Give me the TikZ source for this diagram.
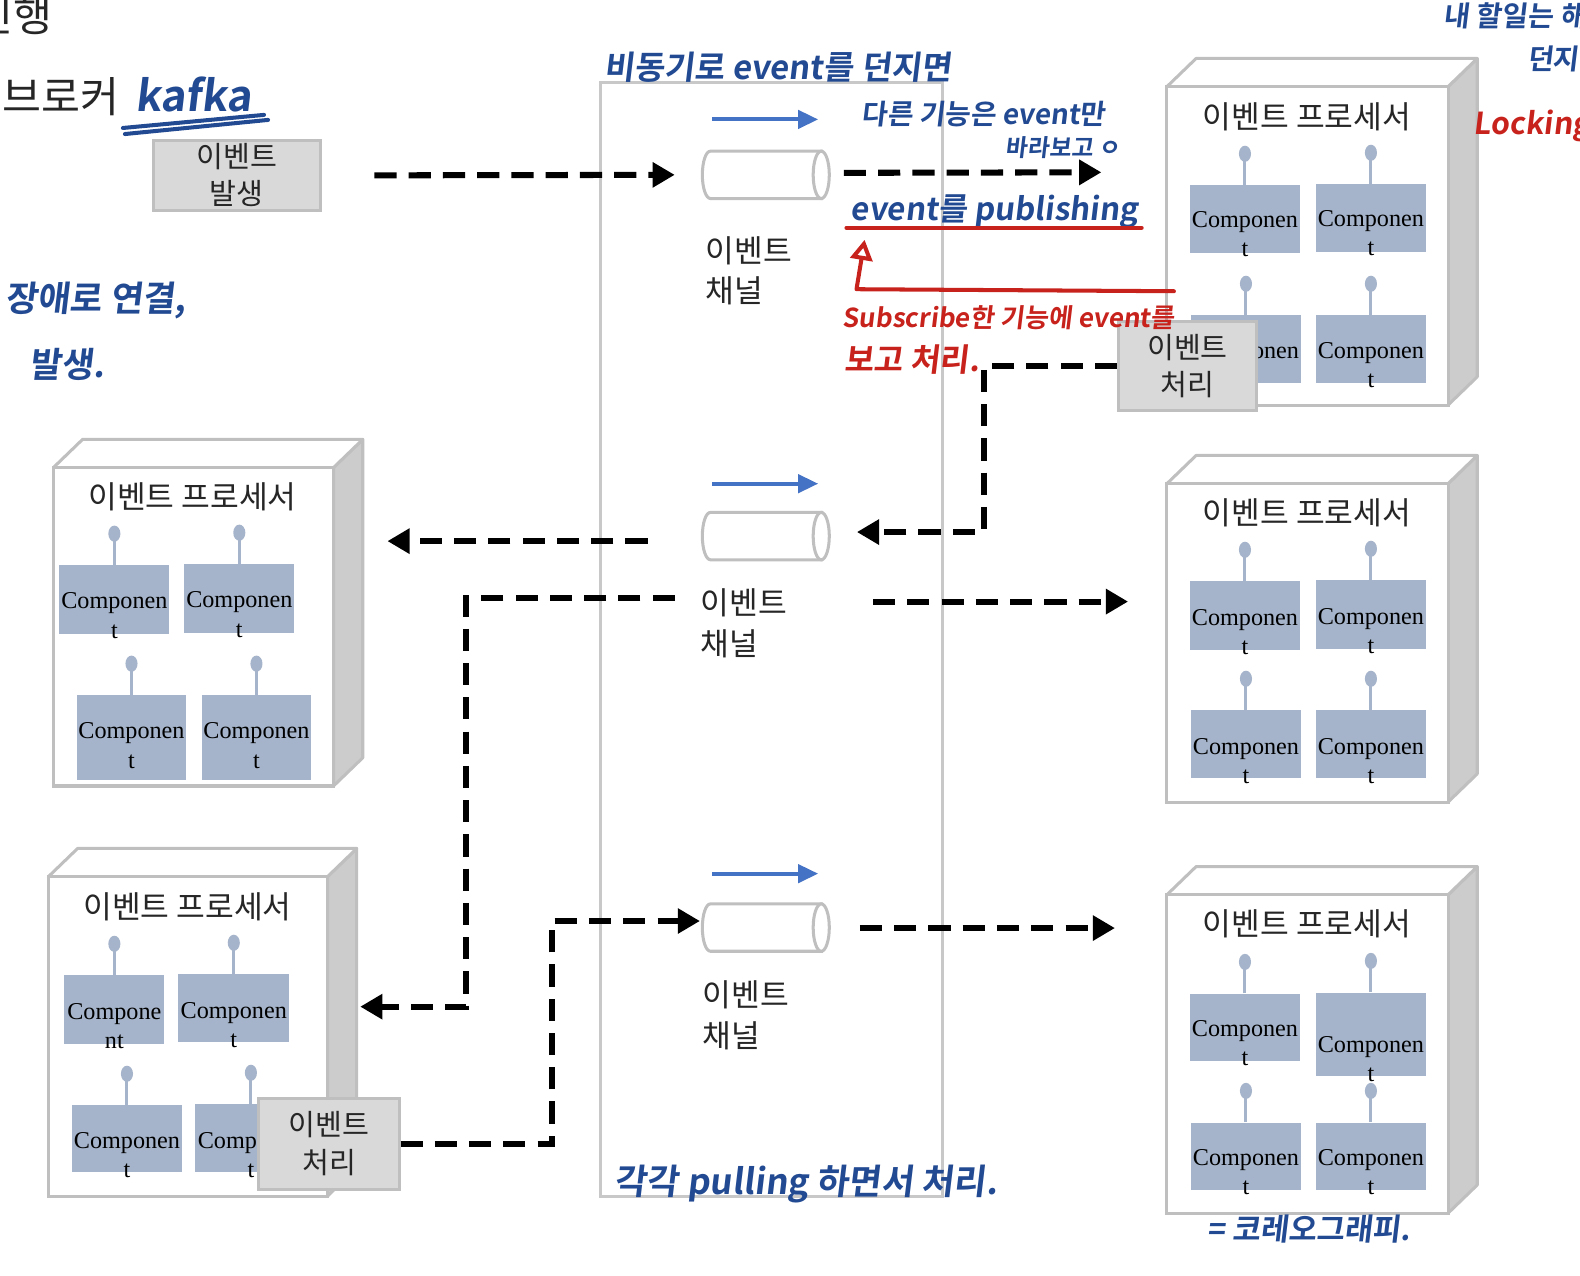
\documentclass[tikz,border=0pt]{standalone}
\usepackage{fontspec}
\usepackage{graphicx}
\setmainfont{Liberation Serif}
\newfontfamily\krfont{Noto Sans CJK KR}
\newfontfamily\handfont{Noto Sans CJK KR Bold}[FakeSlant=0.12]
\usetikzlibrary{shapes.geometric,arrows.meta,calc}
\definecolor{bordergray}{HTML}{BFBFBF}
\definecolor{lanegray}{HTML}{C8C8C8}
\definecolor{sidegray}{HTML}{CCCCCC}
\definecolor{boxgray}{HTML}{D9D9D9}
\definecolor{compblue}{HTML}{A5B4CA}
\definecolor{arrowblue}{HTML}{4472C4}
\definecolor{penblue}{HTML}{224A92}
\definecolor{penred}{HTML}{C8221C}
\definecolor{txt}{HTML}{262626}
\tikzset{
 procfront/.style={draw=bordergray, line width=1.5pt, fill=white, inner sep=0pt},
 procface/.style={draw=bordergray, line width=1.5pt, line join=round},
 compbox/.style={fill=compblue, inner sep=0pt},
 comptext/.style={align=center, font=\fontsize{12}{14.5}\selectfont, text=black, inner sep=0pt},
 pinline/.style={draw=compblue, line width=1.5pt},
 graybox/.style={draw=bordergray, fill=boxgray, line width=1.5pt, align=center, font=\krfont\fontsize{14.5}{18.5}\selectfont, text=txt, inner sep=0pt},
 chanframe/.style={minimum width=63pt, minimum height=23.5pt, inner sep=0pt},
 chanline/.style={draw=bordergray, fill=white, line width=1.5pt},
 chanlabel/.style={align=left, font=\krfont\fontsize{15.5}{20}\selectfont, text=txt, inner sep=0pt, anchor=north west},
 ptitle/.style={font=\krfont\fontsize{15.5}{18}\selectfont, text=txt, inner sep=0pt},
 dasharrow/.style={line width=3pt, dash pattern=on 11pt off 6pt, -{Triangle[length=11pt,width=12pt]}},
 bluearrow/.style={arrowblue, line width=2pt, -{Triangle[length=10pt,width=9pt]}},
 pen/.style={inner sep=0pt, text=penblue},
 redpen/.style={inner sep=0pt, text=penred},
 redline/.style={draw=penred, line width=2pt, line cap=round, line join=round},
}
\newcommand\hw[2]{\resizebox{#1pt}{!}{\handfont #2}}
\newcommand\proc[5]{%
 \draw[procface, fill=sidegray] (#4,#3) -- (#4+29,#3-28) -- (#4+29,#5-28) -- (#4,#5) -- cycle;
 \draw[procface, fill=white] (#2,#3) -- (#2+29,#3-28) -- (#4+29,#3-28) -- (#4,#3) -- cycle;
 \node[procfront, minimum width={(#4-#2)*0.5pt}, minimum height={(#5-#3)*0.5pt}] (#1) at ({(#2+#4)/2},{(#3+#5)/2}) {};
}
\newcommand\comp[7]{%
 \node[compbox, minimum width={(#4-#2)*0.5pt}, minimum height={(#5-#3)*0.5pt}] (#1) at ({(#2+#4)/2},{(#3+#5)/2}) {};
 \draw[pinline] (#1.north) -- ++(0,-24);
 \fill[compblue] ($(#1.north)+(0,-31)$) ellipse [x radius=6, y radius=8];
 \node[comptext] (#1-t) at ({(#2+#4)/2},#7) {#6};
}
\newcommand\chan[3]{%
 \node[chanframe] (#1) at (#2,#3) {};
 \draw[chanline] ($(#1)+(55,-23.5)$) -- ($(#1)+(-55,-23.5)$) arc[start angle=270, end angle=90, x radius=8, y radius=23.5] -- ($(#1)+(55,23.5)$) -- cycle;
 \draw[chanline] ($(#1)+(55,0)$) ellipse [x radius=8, y radius=23.5];
}
\begin{document}
\begin{tikzpicture}[x=0.5pt,y=-0.5pt]
\useasboundingbox (0,0) rectangle (1568,1266);
% central lane
\node[draw=lanegray, line width=1.5pt, minimum width=169.5pt, minimum height=552.5pt, inner sep=0pt] (lane) at (765.5,634.5) {};
% processors
\proc{pTR}{1158}{86}{1437}{402}
\proc{pMR}{1158}{480}{1437}{796}
\proc{pBR}{1158}{888}{1437}{1204}
\proc{pLM}{53}{464}{331}{780}
\proc{pLB}{48}{870}{325}{1187}
\node[ptitle] (tTR) at (1297,116) {이벤트 프로세서};
\node[ptitle] (tMR) at (1297,509) {이벤트 프로세서};
\node[ptitle] (tBR) at (1297,917) {이벤트 프로세서};
\node[ptitle] (tLM) at (191,493) {이벤트 프로세서};
\node[ptitle] (tLB) at (186,900) {이벤트 프로세서};
% components
\comp{trA}{1181}{184}{1290}{251}{Componen\\t}{232}
\comp{trB}{1306}{183}{1415}{250}{Componen\\t}{231}
\comp{trC}{1182}{313}{1291}{380}{Componen\\t}{362}
\comp{trD}{1306}{313}{1415}{380}{Componen\\t}{362}
\comp{mrA}{1181}{577}{1290}{645}{Componen\\t}{627}
\comp{mrB}{1306}{576}{1415}{644}{Componen\\t}{626}
\comp{mrC}{1182}{705}{1291}{772}{Componen\\t}{755}
\comp{mrD}{1306}{705}{1415}{772}{Componen\\t}{755}
\comp{brA}{1181}{986}{1290}{1053}{Componen\\t}{1035}
\comp{brB}{1306}{985}{1415}{1068}{Componen\\t}{1051}
\comp{brC}{1182}{1114}{1291}{1181}{Componen\\t}{1163}
\comp{brD}{1306}{1114}{1415}{1181}{Componen\\t}{1163}
\comp{lmA}{59}{561}{168}{629}{Componen\\t}{611}
\comp{lmB}{183}{560}{292}{628}{Componen\\t}{610}
\comp{lmC}{76}{690}{185}{774}{Componen\\t}{740}
\comp{lmD}{200}{690}{309}{774}{Componen\\t}{740}
\comp{lbA}{64}{968}{163}{1036}{Compone\\nt}{1018}
\comp{lbB}{177}{967}{287}{1034}{Componen\\t}{1017}
\comp{lbC}{71}{1097}{181}{1163}{Componen\\t}{1146}
\comp{lbD}{194}{1096}{304}{1163}{Componen\\t}{1146}
% gray boxes
\node[graybox, minimum width=83pt, minimum height=35pt] (evgen) at (235,174) {이벤트\\발생};
\node[graybox, minimum width=68.5pt, minimum height=44pt] (hand1) at (1178.5,363) {이벤트\\처리};
\node[graybox, minimum width=69.5pt, minimum height=45pt] (hand2) at (326.5,1135) {이벤트\\처리};
% channels
\chan{ch1}{760}{173.5}
\chan{ch2}{760}{532}
\chan{ch3}{760}{920.5}
\node[chanlabel] (l1) at (700,234) {이벤트\\채널};
\node[chanlabel] (l2) at (695,584) {이벤트\\채널};
\node[chanlabel] (l3) at (697,973) {이벤트\\채널};
\draw[bluearrow] ($(ch1)+(-53,-55)$) -- ($(ch1)+(52,-55)$);
\draw[bluearrow] ($(ch2)+(-53,-52)$) -- ($(ch2)+(52,-52)$);
\draw[bluearrow] ($(ch3)+(-53,-53.5)$) -- ($(ch3)+(52,-53.5)$);
% dashed connectors
\draw[dasharrow] ($(evgen.east)+(52,0)$) -- ($(ch1.west)+(-27,0)$);
\coordinate (t1) at (1093,171);
\draw[dasharrow] ($(ch1.east)+(14,-2)$) -- (t1);
\draw[dasharrow] (hand1.west) -- ++(-132,0) |- ($(ch2.east)+(27,-4)$);
\draw[dasharrow] ($(ch2.west)+(-54,5)$) -- ($(pLM.east)+(52,-85)$);
\draw[dasharrow] ($(ch2.west)+(-27,61)$) -- ++(-207,0) |- ($(pLB.east)+(31,-29.5)$);
\draw[dasharrow] ($(ch2.east)+(43,65)$) -- ($(pMR.west)+(-37,-41)$);
\draw[dasharrow] (hand2.east) -- ++(150,0) |- ($(ch3.west)+(-2,-6.5)$);
\draw[dasharrow] ($(ch3.east)+(30,0.5)$) -- ($(pBR.west)+(-50,-125)$);
% static texts top-left
\node[inner sep=0pt, anchor=east, font=\krfont\fontsize{21}{24}\selectfont, text=txt] (jin) at (52,15) {진행};
\node[inner sep=0pt, anchor=east, font=\krfont\fontsize{21}{24}\selectfont, text=txt] (brk) at (119,96) {브로커};
% handwritten annotations
\node[pen] (kafka) at (192,94) {\hw{58}{kafka}};
\draw[penblue, line width=2pt, line cap=round] (122,127) -- (262,114);
\draw[penblue, line width=2pt, line cap=round] (124,133) -- (266,119);
\node[pen] (a1) at (772,67) {\hw{172.5}{비동기로 event를 던지면}};
\node[pen] (a2) at (976,113) {\hw{121}{다른 기능은 event만}};
\node[pen] (a3) at (1055,146) {\hw{57}{바라보고 ㅇ}};
\node[pen] (a4) at (987,210) {\hw{142.5}{event를 publishing}};
\draw[redline] (840,226) -- (1133,226);
\coordinate (r1) at (1165,289);
\coordinate (r2) at (850,287);
\coordinate (r3) at (858,238);
\draw[redline, -{Triangle[open,length=10pt,width=11pt]}] (r1) -- (r2) -- (r3);
\node[redpen] (a5) at (1001,315) {\hw{165}{Subscribe한 기능에 event를}};
\node[redpen] (a6) at (905,357) {\hw{67}{보고 처리.}};
\node[pen, anchor=west] (a7) at (1432,16) {\handfont\fontsize{14}{16}\selectfont 내 할일는 해};
\node[pen, anchor=west] (a8) at (1515,58) {\handfont\fontsize{14}{16}\selectfont 던지};
\node[redpen, anchor=west] (a9) at (1462,125) {\hw{58}{Locking}};
\node[pen] (a10) at (95,298) {\hw{90}{장애로 연결,}};
\node[pen] (a11) at (67,362) {\hw{37.5}{발생.}};
\node[pen] (a12) at (800,1175) {\hw{190}{각각 pulling 하면서 처리.}};
\node[pen] (a13) at (1299,1220) {\hw{101}{= 코레오그래피.}};
\end{tikzpicture}
\end{document}
